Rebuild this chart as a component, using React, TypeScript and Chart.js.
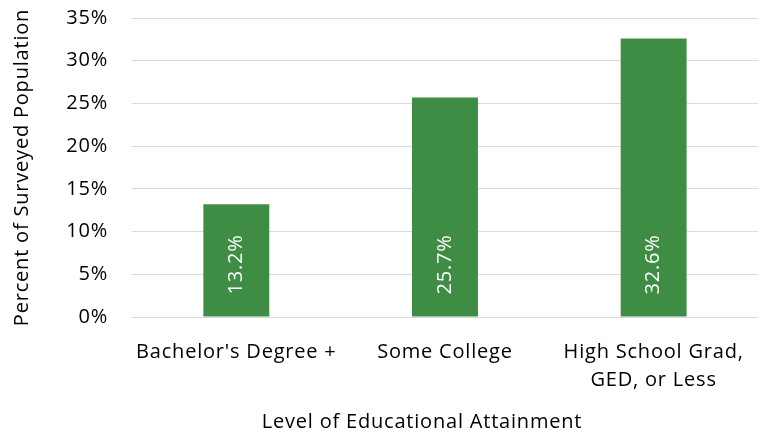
import React, { useEffect, useRef } from "react";
import { Chart, registerables } from "chart.js";

Chart.register(...registerables);

const categories: (string | string[])[] = [
  "Bachelor's Degree +",
  "Some College",
  ["High School Grad,", "GED, or Less"],
];
const values = [13.2, 25.7, 32.6];
const yTicks = [0, 5, 10, 15, 20, 25, 30, 35];
const xTitle = "Level of Educational Attainment";
const yTitle = "Percent of Surveyed Population";

const FONT = "'Open Sans', 'Noto Sans', sans-serif";
const SIZE = 20;
const SPACING = "0.8px";

const spacingPlugin = {
  id: "spacing",
  beforeUpdate(chart: any) {
    chart.ctx.letterSpacing = SPACING;
  },
  beforeLayout(chart: any) {
    chart.ctx.letterSpacing = SPACING;
  },
  beforeDraw(chart: any) {
    chart.ctx.letterSpacing = SPACING;
  },
};

const barLabelPlugin = {
  id: "barLabels",
  afterDatasetsDraw(chart: any) {
    const ctx = chart.ctx;
    const meta = chart.getDatasetMeta(0);
    ctx.save();
    ctx.letterSpacing = SPACING;
    ctx.fillStyle = "#ffffff";
    ctx.font = `${SIZE}px ${FONT}`;
    ctx.textAlign = "left";
    ctx.textBaseline = "middle";
    meta.data.forEach((bar: any, i: number) => {
      ctx.save();
      ctx.translate(bar.x, bar.base - 22);
      ctx.rotate(-Math.PI / 2);
      ctx.fillText(values[i].toFixed(1) + "%", 0, 0);
      ctx.restore();
    });
    ctx.restore();
  },
};

const xTitlePlugin = {
  id: "xTitle",
  afterDraw(chart: any) {
    const ctx = chart.ctx;
    ctx.save();
    ctx.letterSpacing = SPACING;
    ctx.fillStyle = "#000";
    ctx.font = `${SIZE}px ${FONT}`;
    ctx.textAlign = "center";
    ctx.textBaseline = "middle";
    ctx.fillText(xTitle, 422, 422);
    ctx.restore();
  },
};

export default function App() {
  const ref = useRef<HTMLCanvasElement | null>(null);
  useEffect(() => {
    document.body.style.margin = "0";
    const c = ref.current!;
    const chart = new Chart(c, {
      type: "bar",
      data: {
        labels: categories as any,
        datasets: [
          {
            data: values,
            backgroundColor: "#3f8d45",
            barPercentage: 0.316,
            categoryPercentage: 1,
          },
        ],
      },
      options: {
        animation: false,
        responsive: false,
        layout: { padding: { top: 18, right: 8, left: 0, bottom: 0 } },
        plugins: { legend: { display: false }, tooltip: { enabled: false } },
        scales: {
          x: {
            grid: { display: false, drawTicks: false },
            border: { display: false },
            ticks: {
              color: "#000",
              padding: 21,
              font: { family: FONT, size: SIZE, lineHeight: 1.4 },
              maxRotation: 0,
              autoSkip: false,
            },
            afterFit: (s: any) => {
              s.height = 121;
              s.paddingTop = 0;
              s.paddingBottom = 0;
            },
          },
          y: {
            min: 0,
            max: 35,
            afterBuildTicks: (s: any) => {
              s.ticks = yTicks.map((v) => ({ value: v }));
            },
            grid: { color: "#d9d9d9", lineWidth: 1, drawTicks: false },
            border: { display: false },
            ticks: {
              color: "#000",
              padding: 24,
              font: { family: FONT, size: SIZE },
              callback: (v: any) => v + "%",
            },
            title: {
              display: true,
              text: yTitle,
              color: "#000",
              font: { family: FONT, size: SIZE },
              padding: { top: 10, bottom: 0 },
            },
            afterFit: (s: any) => {
              s.width = 132;
              s.paddingTop = 0;
              s.paddingBottom = 0;
            },
          },
        },
      },
      plugins: [spacingPlugin, barLabelPlugin, xTitlePlugin],
    });
    return () => chart.destroy();
  }, []);
  return <canvas ref={ref} width={766} height={438} style={{ display: "block" }} />;
}
